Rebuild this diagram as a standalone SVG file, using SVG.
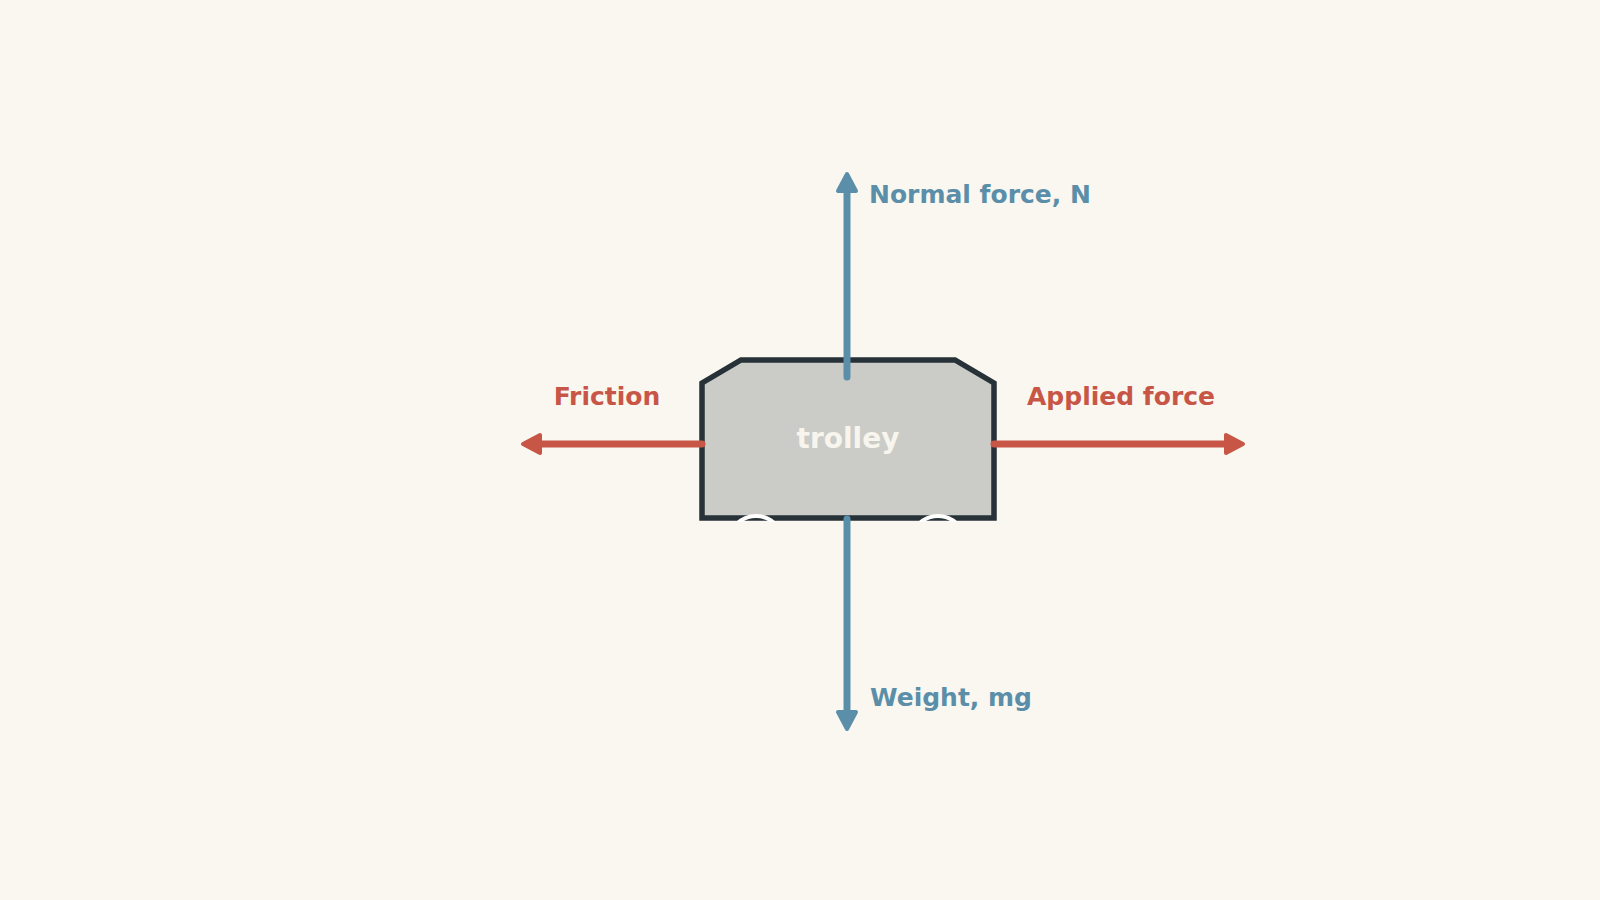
<svg xmlns="http://www.w3.org/2000/svg" width="1600" height="900" viewBox="0 0 1600 900">
  <style>
    .lbl { font-family: "DejaVu Sans", "Liberation Sans", sans-serif; font-weight: bold; font-size: 25px; }
    .blue { fill: #5B8FA9; }
    .red { fill: #C85646; }
    .force { fill: none; stroke-width: 7; stroke-linecap: round; }
    .fblue { stroke: #5B8FA9; }
    .fred { stroke: #C85646; }
    .wheel { fill: none; stroke: #FFFFFF; stroke-width: 4; }
  </style>
  <defs>
    <marker id="headBlue" markerUnits="userSpaceOnUse" markerWidth="30" markerHeight="30" viewBox="-20 -15 30 30" refX="-8" refY="0" orient="auto">
      <path d="M1,0 L-16,-9 L-16,9 Z" fill="#5B8FA9" stroke="#5B8FA9" stroke-width="4" stroke-linejoin="round"/>
    </marker>
    <marker id="headRed" markerUnits="userSpaceOnUse" markerWidth="30" markerHeight="30" viewBox="-20 -15 30 30" refX="-8" refY="0" orient="auto">
      <path d="M1,0 L-16,-9 L-16,9 Z" fill="#C85646" stroke="#C85646" stroke-width="4" stroke-linejoin="round"/>
    </marker>
    <clipPath id="aboveGround">
      <rect x="0" y="0" width="1600" height="522"/>
    </clipPath>
  </defs>
  <rect x="0" y="0" width="1600" height="900" fill="#FAF7F0"/>

  <g id="trolley">
    <path d="M702,518 L702,383 L741,360 L955,360 L994,383 L994,518 Z" fill="#CBCCC7" stroke="#263238" stroke-width="5.5" stroke-linejoin="miter"/>
    <g clip-path="url(#aboveGround)">
      <circle class="wheel" cx="756" cy="543" r="27"/>
      <circle class="wheel" cx="938" cy="543" r="27"/>
    </g>
    <text x="848" y="448" text-anchor="middle" font-family="DejaVu Sans, Liberation Sans, sans-serif" font-weight="bold" font-size="28" fill="#F8F5EE">trolley</text>
  </g>

  <g id="connectors">
    <line id="normal" class="force fblue" x1="847" y1="377" x2="847" y2="183" marker-end="url(#headBlue)"/>
    <line id="weight" class="force fblue" x1="847" y1="519" x2="847" y2="720" marker-end="url(#headBlue)"/>
    <line id="friction" class="force fred" x1="702" y1="444" x2="532" y2="444" marker-end="url(#headRed)"/>
    <line id="applied" class="force fred" x1="994" y1="444" x2="1234" y2="444" marker-end="url(#headRed)"/>
  </g>

  <g id="labels">
    <text class="lbl blue" x="869" y="203">Normal force, N</text>
    <text class="lbl blue" x="870" y="706">Weight, mg</text>
    <text class="lbl red" x="607" y="405" text-anchor="middle">Friction</text>
    <text class="lbl red" x="1121" y="405" text-anchor="middle">Applied force</text>
  </g>
</svg>
